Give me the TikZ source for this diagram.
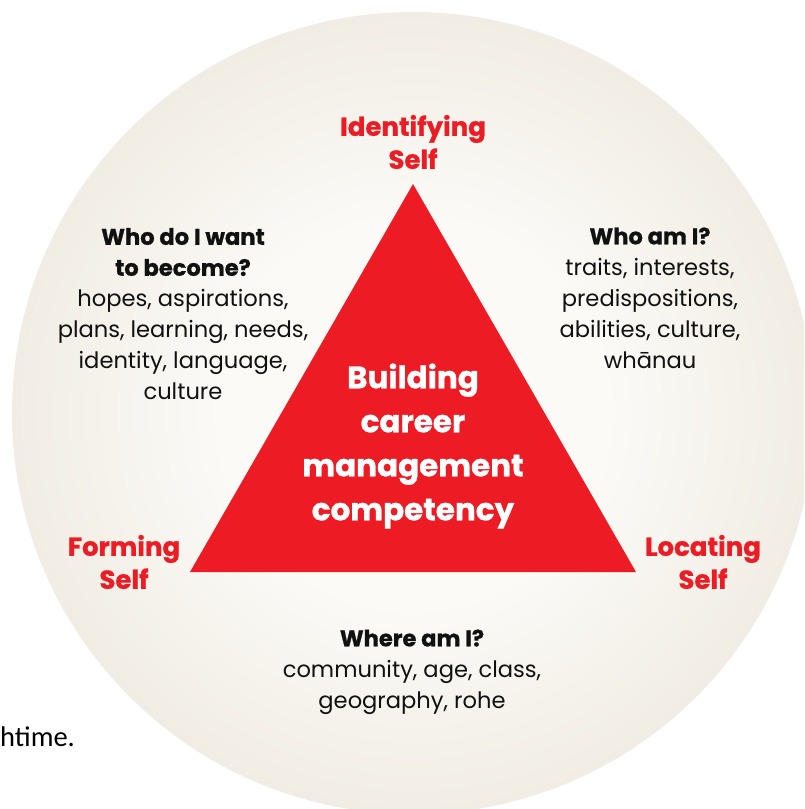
\documentclass[tikz,border=0pt]{standalone}
\usepackage{fontspec}
\setmainfont{Poppins}[BoldFeatures={FakeBold=0.8}]
\newfontfamily\notefont{Carlito}
\definecolor{tri}{HTML}{ED1C24}
\definecolor{ink}{HTML}{111111}
\definecolor{bgA}{HTML}{FBFAF7}
\definecolor{bgB}{HTML}{EFEADF}
\definecolor{bgC}{HTML}{DDD4C0}
\definecolor{bgD}{HTML}{CDC1A6}
\pgfdeclareradialshading{disc}{\pgfpoint{0bp}{0bp}}{color(0bp)=(bgA); color(12bp)=(bgA); color(28bp)=(bgB); color(41bp)=(bgC); color(50bp)=(bgD)}
\tikzset{
  heading/.style={text=tri, font=\fontsize{26}{33}\selectfont\bfseries, align=center},
  body/.style={text=ink, font=\fontsize{22.6}{31}\selectfont, align=center},
  core/.style={text=white, font=\fontsize{31}{44}\selectfont\bfseries, align=center},
}
\begin{document}
\begin{tikzpicture}[x=1pt,y=-1pt]
\clip (0,0) rectangle (804,809);
\fill[white] (0,0) rectangle (804,809);
\shade[shading=disc] (413,413) circle (401);
\fill[tri] (413,184) coordinate (apex) -- (636,572) coordinate (br) -- (190,572) coordinate (bl) -- cycle;
\node[heading] (ident) at (413,142) {Identifying\\Self};
\node[heading] (form) at (124,562) {Forming\\Self};
\node[heading] (loc) at (703,562) {Locating\\Self};
\node[core] (build) at (413,446) {Building\\career\\management\\competency};
\node[body] (become) at (183,314) {\textbf{Who do I want}\\\textbf{to become?}\\hopes, aspirations,\\plans, learning, needs,\\identity, language,\\culture};
\node[body] (whoami) at (650,298) {\textbf{Who am I?}\\traits, interests,\\predispositions,\\abilities, culture,\\whānau};
\node[body] (where) at (412,672) {\textbf{Where am I?}\\community, age, class,\\geography, rohe};
\node[anchor=base west, inner sep=0pt, font=\notefont\fontsize{28.5}{30}\selectfont, text=black] (note) at (0,746) {htime.};
\end{tikzpicture}
\end{document}
